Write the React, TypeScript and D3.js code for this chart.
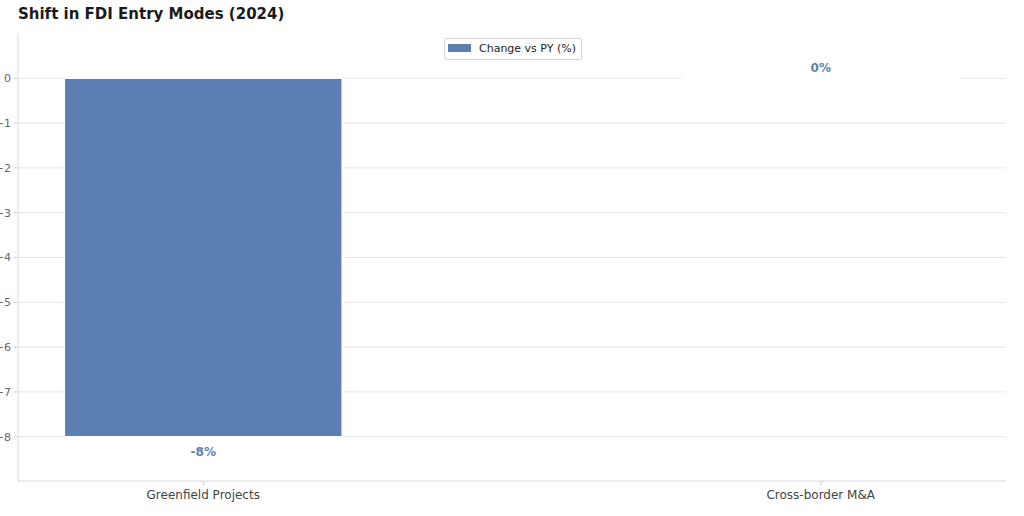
import React from "react";
import * as d3 from "d3";

const categories = ["Greenfield Projects", "Cross-border M&A"];
const changeValues = [-8, 0];
const yTicks = [0, -1, -2, -3, -4, -5, -6, -7, -8];
const seriesName = "Change vs PY (%)";
const title = "Shift in FDI Entry Modes (2024)";

const W = 1024;
const H = 516;
const left = 18;
const right = 1006;
const top = 33;
const bottom = 481;
const barColor = "#5b7fb0";
const font = "DejaVu Sans, sans-serif";

export default function App() {
  const x = d3.scaleLinear().domain([-0.3, 1.3]).range([left, right]);
  const y = d3.scaleLinear().domain([-9, 1]).range([bottom + 0.5, top + 0.5]);
  const bw = 0.45;

  return (
    <svg width={W} height={H} style={{ position: "absolute", left: 0, top: 0, background: "#fff" }}>
      <rect x={0} y={0} width={W} height={H} fill="#fff" />
      <text x={18} y={19} fontFamily={font} fontWeight="bold" fontSize={15} fill="#1a1a1a">
        {title}
      </text>
      {yTicks.map((t) => (
        <g key={t}>
          <line x1={left} x2={right} y1={y(t)} y2={y(t)} stroke="#e5e5e5" strokeWidth={1} />
          <line x1={left - 4} x2={left} y1={y(t)} y2={y(t)} stroke="#cccccc" strokeWidth={1} />
          <text x={left - 7} y={y(t)} dy="0.35em" textAnchor="end" fontFamily={font} fontSize={11} fill="#666">
            {t === 0 ? "0" : "\u2212" + Math.abs(t)}
          </text>
        </g>
      ))}
      {categories.map((c, i) => {
        const v = changeValues[i];
        const y0 = y(Math.max(0, v));
        const y1 = y(Math.min(0, v));
        const x0 = x(i - bw / 2);
        const x1 = x(i + bw / 2);
        const path = d3.path();
        path.rect(x0, y0, x1 - x0, y1 - y0);
        return (
          <g key={c}>
            <path d={path.toString()} fill={barColor} stroke="#fff" strokeWidth={1.5} />
            <text
              x={x(i)}
              y={v < 0 ? y(v) + 15 : y(v) - 11}
              dy="0.35em"
              textAnchor="middle"
              fontFamily={font}
              fontWeight="bold"
              fontSize={12}
              fill={barColor}
            >
              {`${v}%`}
            </text>
            <line x1={x(i)} x2={x(i)} y1={bottom} y2={bottom + 4} stroke="#cccccc" />
            <text x={x(i)} y={bottom + 13.5} dy="0.35em" textAnchor="middle" fontFamily={font} fontSize={12} fill="#444">
              {c}
            </text>
          </g>
        );
      })}
      <line x1={left} x2={left} y1={top} y2={bottom} stroke="#d9d9d9" />
      <line x1={left} x2={right} y1={bottom} y2={bottom} stroke="#d9d9d9" />
      <g>
        <rect x={444.5} y={38.5} width={137} height={21} rx={2} fill="#fff" stroke="#d6d6d6" />
        <rect x={448} y={44} width={23} height={8} fill={barColor} />
        <text x={479} y={48} dy="0.35em" fontFamily={font} fontSize={11} fill="#222">
          {seriesName}
        </text>
      </g>
    </svg>
  );
}
